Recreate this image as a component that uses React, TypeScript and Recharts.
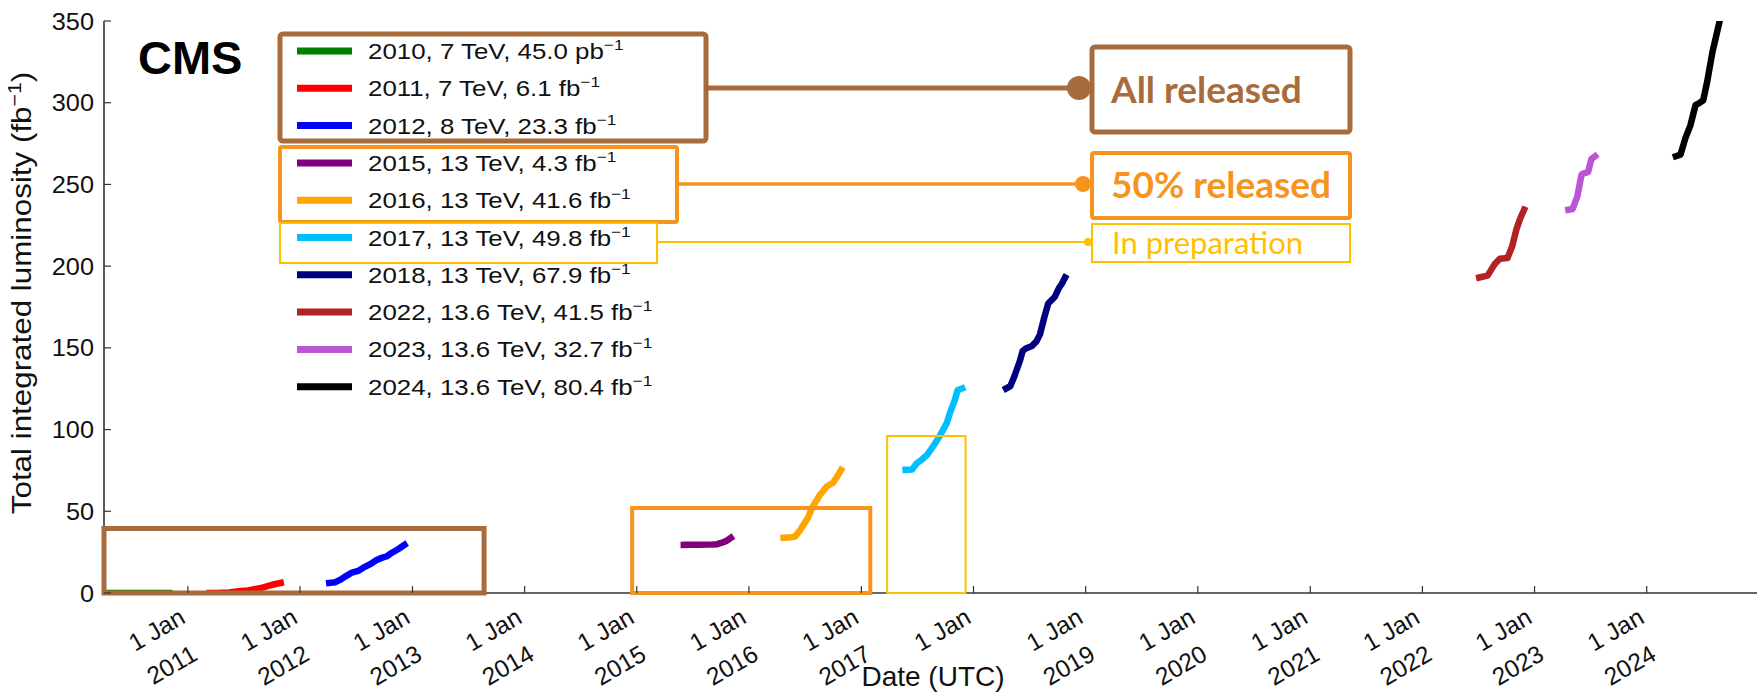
import React from 'react';
import { LineChart, Line, XAxis, YAxis, ReferenceArea, Customized } from 'recharts';

// ---------------- data ----------------
const seriesYears = ['2010', '2011', '2012', '2015', '2016', '2017', '2018', '2022', '2023', '2024'];
const seriesEnergies = ['7', '7', '8', '13', '13', '13', '13', '13.6', '13.6', '13.6'];
const seriesLumis = ['45.0', '6.1', '23.3', '4.3', '41.6', '49.8', '67.9', '41.5', '32.7', '80.4'];
const seriesUnits = ['pb', 'fb', 'fb', 'fb', 'fb', 'fb', 'fb', 'fb', 'fb', 'fb'];
const seriesColors = ['#008000', '#ff0000', '#0000ff', '#800080', '#ffa500', '#00bfff', '#000080', '#b22222', '#ba55d3', '#000000'];

const dates2010 = ['2010-04-03', '2010-06-01', '2010-08-01', '2010-09-01', '2010-10-01', '2010-11-01'];
const lumi2010 = [0, 0.0002, 0.001, 0.003, 0.015, 0.045];

const dates2011 = ['2011-03-13', '2011-04-15', '2011-05-15', '2011-06-15', '2011-07-15', '2011-08-10', '2011-08-31', '2011-09-20', '2011-10-10', '2011-10-30'];
const lumi2011 = [0.05, 0.1, 0.3, 1.15, 1.55, 2.45, 3.25, 4.35, 5.35, 6.15];

const dates2012 = ['2012-04-05', '2012-04-25', '2012-05-10', '2012-05-31', '2012-06-18', '2012-07-08', '2012-07-25', '2012-08-15', '2012-09-05', '2012-09-20', '2012-10-10', '2012-10-25', '2012-11-15', '2012-12-06'];
const lumi2012 = [6.15, 6.6, 8.0, 10.5, 12.5, 13.5, 15.5, 17.5, 20.0, 21.3, 22.5, 24.5, 26.8, 29.45];

const dates2015 = ['2015-06-03', '2015-07-01', '2015-07-25', '2015-08-20', '2015-09-05', '2015-09-20', '2015-10-05', '2015-10-20', '2015-11-03'];
const lumi2015 = [29.45, 29.46, 29.5, 29.6, 29.7, 29.9, 30.8, 31.9, 33.75];

const dates2016 = ['2016-04-23', '2016-05-10', '2016-05-30', '2016-06-16', '2016-07-11', '2016-07-27', '2016-08-19', '2016-09-11', '2016-10-01', '2016-10-15', '2016-10-27'];
const lumi2016 = [33.75, 33.9, 34.5, 38.5, 46.0, 53.0, 60.0, 65.3, 67.5, 71.5, 75.35];

const dates2017 = ['2017-05-25', '2017-06-15', '2017-07-01', '2017-07-16', '2017-08-03', '2017-08-22', '2017-09-13', '2017-10-06', '2017-10-16', '2017-11-01', '2017-11-10', '2017-11-25'];
const lumi2017 = [75.35, 75.6, 79.5, 81.5, 84.5, 89.5, 96.0, 104.0, 110.0, 118.0, 124.0, 125.15];

const dates2018 = ['2018-04-17', '2018-05-01', '2018-05-15', '2018-06-01', '2018-06-10', '2018-06-20', '2018-07-10', '2018-07-25', '2018-08-05', '2018-08-20', '2018-09-01', '2018-09-22', '2018-10-06', '2018-10-15', '2018-10-26'];
const lumi2018 = [125.15, 126.6, 133.1, 142.1, 148.1, 149.6, 151.1, 154.1, 158.1, 169.1, 177.1, 181.1, 186.6, 189.1, 193.05];

const dates2022 = ['2022-07-05', '2022-08-01', '2022-08-25', '2022-09-10', '2022-10-05', '2022-10-20', '2022-11-03', '2022-11-14', '2022-11-28'];
const lumi2022 = [193.05, 194.2, 201.5, 204.5, 205.0, 212.0, 222.5, 228.5, 234.55];

const dates2023 = ['2023-04-21', '2023-05-05', '2023-05-20', '2023-06-03', '2023-06-10', '2023-06-24', '2023-07-05', '2023-07-17'];
const lumi2023 = [234.55, 235.0, 242.5, 256.0, 256.8, 257.5, 265.5, 267.25];

const dates2024 = ['2024-04-05', '2024-04-20', '2024-05-06', '2024-05-22', '2024-06-08', '2024-06-22', '2024-07-03', '2024-07-16', '2024-08-02', '2024-08-28'];
const lumi2024 = [267.25, 268.2, 278.3, 286.0, 298.5, 300.0, 301.5, 313.0, 331.0, 352.0];

const seriesDates = [dates2010, dates2011, dates2012, dates2015, dates2016, dates2017, dates2018, dates2022, dates2023, dates2024];
const seriesValues = [lumi2010, lumi2011, lumi2012, lumi2015, lumi2016, lumi2017, lumi2018, lumi2022, lumi2023, lumi2024];

const tickYears = [2011, 2012, 2013, 2014, 2015, 2016, 2017, 2018, 2019, 2020, 2021, 2022, 2023, 2024];
const tickYearLabels = ['2011', '2012', '2013', '2014', '2015', '2016', '2017', '', '2019', '2020', '2021', '2022', '2023', '2024'];
const yTicks = [0, 50, 100, 150, 200, 250, 300, 350];

// annotation regions in data space (bottom boxes)
const boxAllReleased = { from: '2010-04-03', to: '2013-08-22', top: 39.5 };
const boxHalfReleased = { from: '2014-12-17', to: '2017-01-30', top: 52 };
const boxPreparation = { from: '2017-03-26', to: '2017-12-06', top: 96 };

// ---------------- helpers ----------------
const toT = (d: string) => Date.parse(d + 'T00:00:00Z');
const xMin = toT('2010-04-03');
const xMax = toT('2024-12-25');
const xTickValues = tickYears.map((y) => Date.UTC(y, 0, 1));

const seriesData = seriesDates.map((ds, i) => ds.map((d, j) => ({ t: toT(d), v: seriesValues[i][j] })));

const FONT = "'Liberation Sans', Arial, Helvetica, sans-serif";
const ANNOT_FONT = "Lato, 'Open Sans', sans-serif";
const AXIS = '#333';
const BROWN = '#a86b3c';
const ORANGE = '#f7941d';
const YELLOW = '#ffc000';

const BottomTick = (props: any) => {
  const { x, y, payload } = props;
  const yr = new Date(payload.value).getUTCFullYear();
  const idx = tickYears.indexOf(yr);
  const lbl = idx >= 0 ? tickYearLabels[idx] : '';
  return (
    <g>
      <line x1={x} y1={y} x2={x} y2={y - 7} stroke={AXIS} strokeWidth={1.2} />
      <g transform={`translate(${x - 1},${y + 29}) rotate(-30)`}>
        <text x={0} y={0} textAnchor="end" fontSize={24.5} fontFamily={FONT} fill="#111">1 Jan</text>
        {lbl ? (
          <text x={-8} y={38} textAnchor="end" fontSize={24.5} fontFamily={FONT} fill="#111">{lbl}</text>
        ) : null}
      </g>
    </g>
  );
};

const TopTick = (props: any) => {
  const { x, y } = props;
  return <line x1={x} y1={y} x2={x} y2={y + 7} stroke={AXIS} strokeWidth={1.2} />;
};

const LeftTick = (props: any) => {
  const { x, y, payload } = props;
  return (
    <g>
      <line x1={x} y1={y} x2={x + 7} y2={y} stroke={AXIS} strokeWidth={1.2} />
      <text
        transform={`translate(${x - 10},${y + 8.5}) scale(1.1,1)`}
        textAnchor="end"
        fontSize={23}
        fontFamily={FONT}
        fill="#111"
      >
        {payload.value}
      </text>
    </g>
  );
};

const RightTick = (props: any) => {
  const { x, y } = props;
  return <line x1={x} y1={y} x2={x - 7} y2={y} stroke={AXIS} strokeWidth={1.2} />;
};

const Decorations = () => {
  const rowY = (i: number) => 51 + i * 37.3;
  return (
    <g>
      {/* CMS */}
      <text x={138} y={74} fontSize={47} fontWeight="bold" fontFamily={FONT} fill="#000">CMS</text>

      {/* y axis label */}
      <text
        transform="translate(31,293) rotate(-90) scale(1.12,1)"
        textAnchor="middle"
        fontSize={28}
        fontFamily={FONT}
        fill="#111"
      >
        <tspan>Total integrated luminosity (fb</tspan>
        <tspan dy={-10} fontSize={19}>−1</tspan>
        <tspan dy={10}>)</tspan>
      </text>

      {/* x axis label */}
      <text x={933} y={686} textAnchor="middle" fontSize={28} fontFamily={FONT} fill="#111">Date (UTC)</text>

      {/* legend */}
      {seriesYears.map((yr, i) => (
        <g key={yr}>
          <line x1={297} x2={352} y1={rowY(i)} y2={rowY(i)} stroke={seriesColors[i]} strokeWidth={7} />
          <text
            transform={`translate(368,${rowY(i) + 8}) scale(1.15,1)`}
            fontSize={22.5}
            fontFamily={FONT}
            fill="#111"
          >
            <tspan>{`${yr}, ${seriesEnergies[i]} TeV, ${seriesLumis[i]} ${seriesUnits[i]}`}</tspan>
            <tspan dy={-9} fontSize={15}>−1</tspan>
          </text>
        </g>
      ))}

      {/* legend group boxes */}
      <rect x={280} y={34} width={426} height={107} rx={3} fill="none" stroke={BROWN} strokeWidth={5} />
      <rect x={280} y={147} width={397} height={75} rx={2} fill="none" stroke={ORANGE} strokeWidth={4} />
      <rect x={280} y={223} width={377} height={40} fill="none" stroke={YELLOW} strokeWidth={2} />

      {/* connectors */}
      <line x1={706} x2={1079} y1={88} y2={88} stroke={BROWN} strokeWidth={5} />
      <circle cx={1079} cy={88} r={12} fill={BROWN} />
      <line x1={677} x2={1083} y1={184} y2={184} stroke={ORANGE} strokeWidth={3.5} />
      <circle cx={1083} cy={184} r={8} fill={ORANGE} />
      <line x1={657} x2={1088} y1={242} y2={242} stroke={YELLOW} strokeWidth={2} />
      <circle cx={1088} cy={242} r={4} fill={YELLOW} />

      {/* status boxes */}
      <rect x={1092} y={47} width={258} height={85} rx={3} fill="#fff" stroke={BROWN} strokeWidth={5} />
      <text x={1111} y={103} fontSize={37} fontWeight="bold" fontFamily={ANNOT_FONT} fill={BROWN}>All released</text>
      <rect x={1092} y={153} width={258} height={65} rx={2} fill="#fff" stroke={ORANGE} strokeWidth={4} />
      <text x={1111} y={198} fontSize={37} fontWeight="bold" fontFamily={ANNOT_FONT} fill={ORANGE}>50% released</text>
      <rect x={1092} y={224} width={258} height={38} fill="#fff" stroke={YELLOW} strokeWidth={2} />
      <text x={1112} y={254} fontSize={31} fontFamily={ANNOT_FONT} fill={YELLOW}>In preparation</text>
    </g>
  );
};

export default function App() {
  return (
    <div style={{ position: 'absolute', left: 0, top: 0, width: 1757, height: 693, background: '#fff' }}>
      <LineChart width={1757} height={693} margin={{ top: 21, right: 0, bottom: 0, left: 0 }}>
        <XAxis
          xAxisId={0}
          type="number"
          dataKey="t"
          domain={[xMin, xMax]}
          ticks={xTickValues}
          interval={0}
          allowDataOverflow
          height={100}
          tickSize={0}
          tickMargin={0}
          tickLine={false}
          axisLine={{ stroke: AXIS, strokeWidth: 1.6 }}
          tick={<BottomTick />}
        />
        <XAxis
          xAxisId="top"
          orientation="top"
          type="number"
          domain={[xMin, xMax]}
          ticks={xTickValues}
          interval={0}
          allowDataOverflow
          height={0}
          tickSize={0}
          tickMargin={0}
          tickLine={false}
          axisLine={{ stroke: AXIS, strokeWidth: 1.6 }}
          tick={<TopTick />}
        />
        <YAxis
          yAxisId={0}
          type="number"
          domain={[0, 350]}
          ticks={yTicks}
          interval={0}
          allowDataOverflow
          width={104}
          tickSize={0}
          tickMargin={0}
          tickLine={false}
          axisLine={{ stroke: AXIS, strokeWidth: 1.6 }}
          tick={<LeftTick />}
        />
        <YAxis
          yAxisId="right"
          orientation="right"
          type="number"
          domain={[0, 350]}
          ticks={yTicks}
          interval={0}
          allowDataOverflow
          width={0}
          tickSize={0}
          tickMargin={0}
          tickLine={false}
          axisLine={false}
          tick={<RightTick />}
        />
        {seriesData.map((d, i) => (
          <Line
            key={seriesYears[i]}
            name={seriesYears[i]}
            data={d}
            dataKey="v"
            type="linear"
            stroke={seriesColors[i]}
            strokeWidth={6.5}
            strokeLinecap="square"
            strokeLinejoin="round"
            dot={false}
            activeDot={false}
            isAnimationActive={false}
          />
        ))}
        <ReferenceArea
          x1={toT(boxAllReleased.from)}
          x2={toT(boxAllReleased.to)}
          y1={0}
          y2={boxAllReleased.top}
          fill="none"
          fillOpacity={0}
          stroke={BROWN}
          strokeWidth={5}
          ifOverflow="visible"
          zIndex={1500}
        />
        <ReferenceArea
          x1={toT(boxHalfReleased.from)}
          x2={toT(boxHalfReleased.to)}
          y1={0}
          y2={boxHalfReleased.top}
          fill="none"
          fillOpacity={0}
          stroke={ORANGE}
          strokeWidth={4}
          ifOverflow="visible"
          zIndex={1500}
        />
        <ReferenceArea
          x1={toT(boxPreparation.from)}
          x2={toT(boxPreparation.to)}
          y1={0}
          y2={boxPreparation.top}
          fill="none"
          fillOpacity={0}
          stroke={YELLOW}
          strokeWidth={2}
          ifOverflow="visible"
          zIndex={1500}
        />
        <Customized component={<Decorations />} />
      </LineChart>
    </div>
  );
}
